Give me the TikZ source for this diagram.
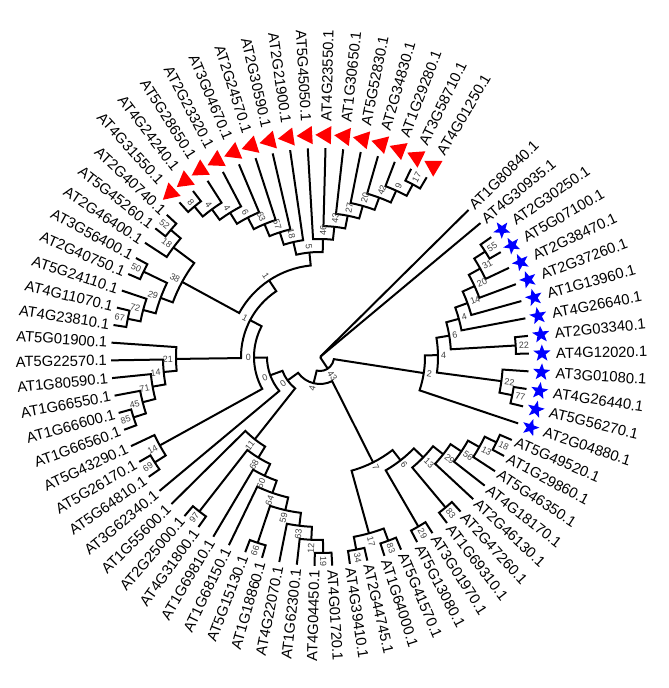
\documentclass[tikz,border=0pt]{standalone}
\usepackage{fontspec}
\setmainfont{Liberation Sans}
\usepackage{tikz}
\usetikzlibrary{shapes.geometric}

% stored angle / radius of every tree node
\newcommand{\storeval}[3]{\expandafter\xdef\csname #1#2\endcsname{#3}}
\newcommand{\getval}[2]{\csname #1#2\endcsname}

% text set along the radius, turned so that it reads upright
\newcommand{\radtext}[5]{%
  \pgfmathsetmacro\angMod{mod(#2,360)}%
  \pgfmathtruncatemacro\isLeft{and(\angMod>90,\angMod<270)}%
  \ifnum\isLeft=1
    \pgfmathsetmacro\rotT{#2-180}%
    \node[#4, anchor=east, rotate=\rotT] (#1) at (#2:#3 pt) {#5};%
  \else
    \node[#4, anchor=west, rotate=#2] (#1) at (#2:#3 pt) {#5};%
  \fi}

% internal node: name, height, first child, last child, support
\newcommand{\clade}[5]{%
  \pgfmathsetmacro\radN{209-13*#2}%
  \pgfmathsetmacro\angA{\getval{ang}{#3}}%
  \pgfmathsetmacro\angB{\getval{ang}{#4}}%
  \pgfmathsetmacro\angM{(\angA+\angB)/2}%
  \storeval{ang}{#1}{\angM}\storeval{rad}{#1}{\radN}%
  \coordinate (#1) at (\angM:\radN pt);%
  \draw[branch] (#3) -- (\angA:\radN pt)
    arc[start angle=\angA, end angle=\angB, radius=\radN pt] -- (#4);%
  \pgfmathsetmacro\radL{\radN+3}%
  \radtext{b#1}{\angM}{\radL}{boot}{#5}}

\newcommand{\leaflist}{AT4G01250, AT3G58710, AT1G29280, AT2G34830, AT5G52830,
  AT1G30650, AT4G23550, AT5G45050, AT2G21900, AT2G30590, AT2G24570, AT3G04670,
  AT2G23320, AT5G28650, AT4G24240, AT4G31550, AT2G40740, AT5G45260, AT2G46400,
  AT3G56400, AT2G40750, AT5G24110, AT4G11070, AT4G23810, AT5G01900, AT5G22570,
  AT1G80590, AT1G66550, AT1G66600, AT1G66560, AT5G43290, AT5G26170, AT5G64810,
  AT3G62340, AT1G55600, AT2G25000, AT4G31800, AT1G69810, AT1G68150, AT5G15130,
  AT1G18860, AT4G22070, AT1G62300, AT4G04450, AT4G01720, AT4G39410, AT2G44745,
  AT1G64000, AT5G41570, AT5G13080, AT3G01970, AT1G69310, AT2G47260, AT2G46130,
  AT4G18170, AT5G46350, AT1G29860, AT5G49520, AT2G04880, AT5G56270, AT4G26440,
  AT3G01080, AT4G12020, AT2G03340, AT4G26640, AT1G13960, AT2G37260, AT2G38470,
  AT5G07100, AT2G30250, AT4G30935, AT1G80840}

\begin{document}
\begin{tikzpicture}[
  branch/.style={line width=2pt},
  boot/.style={font=\fontsize{9}{10}\selectfont, text=black!75, inner sep=0pt},
  leaf/.style={font=\fontsize{14.8}{16}\selectfont, inner sep=0pt},
  redmark/.style={regular polygon, regular polygon sides=3, fill=red,
                  minimum size=21pt, inner sep=0pt},
  bluemark/.style={star, star points=5, star point ratio=2.4, fill=blue,
                   minimum size=18pt, inner sep=0pt}
]
\useasboundingbox (-320pt,-331pt) rectangle (349pt,357pt);

% leaves, markers and labels
\foreach \nm [count=\i from 0] in \leaflist {
  \pgfmathsetmacro\angT{59.3+4.865*\i}
  \storeval{ang}{\nm}{\angT}
  \storeval{rad}{\nm}{209}
  \coordinate (\nm) at (\angT:209pt);
  \pgfmathtruncatemacro\isRed{\i<16}
  \pgfmathtruncatemacro\isStar{and(\i>57,\i<70)}
  \ifnum\isRed=1 \node[redmark, rotate=\angT] (m\nm) at (\angT:222pt) {}; \fi
  \ifnum\isStar=1 \node[bluemark, rotate=\angT] (m\nm) at (\angT:222pt) {}; \fi
  \pgfmathsetmacro\radT{ifthenelse(\isRed+\isStar>0,236,213)}
  \radtext{l\nm}{\angT}{\radT}{leaf}{\nm.1}
}

% red clade
\clade{c17}{1}{AT4G01250}{AT3G58710}{17}
\clade{c9}{2}{c17}{AT1G29280}{9}
\clade{c42}{3}{c9}{AT2G34830}{42}
\clade{c20}{4}{c42}{AT5G52830}{20}
\clade{c27}{5}{c20}{AT1G30650}{27}
\clade{c43}{6}{c27}{AT4G23550}{43}
\clade{c46}{7}{c43}{AT5G45050}{46}
\clade{c8}{1}{AT4G24240}{AT4G31550}{8}
\clade{c4a}{2}{AT5G28650}{c8}{4}
\clade{c4b}{3}{AT2G23320}{c4a}{4}
\clade{c6}{4}{AT3G04670}{c4b}{6}
\clade{c63}{5}{AT2G24570}{c6}{63}
\clade{c57}{6}{AT2G30590}{c63}{57}
\clade{c18}{7}{AT2G21900}{c57}{18}
\clade{c5}{8}{c46}{c18}{5}

% upper left clade
\clade{c52}{1}{AT2G40740}{AT5G45260}{52}
\clade{c18b}{2}{c52}{AT2G46400}{18}
\clade{c50}{1}{AT3G56400}{AT2G40750}{50}
\clade{c67}{1}{AT4G11070}{AT4G23810}{67}
\clade{c72}{2}{AT5G24110}{c67}{72}
\clade{c29}{3}{c50}{c72}{29}
\clade{c38}{4}{c18b}{c29}{38}
\clade{c1a}{9}{c5}{c38}{1}

% left clade
\clade{c85}{1}{AT1G66600}{AT1G66560}{85}
\clade{c45}{2}{AT1G66550}{c85}{45}
\clade{c71}{3}{AT1G80590}{c45}{71}
\clade{c14}{4}{AT5G22570}{c71}{14}
\clade{c21}{5}{AT5G01900}{c14}{21}
\clade{c1b}{10}{c1a}{c21}{1}
\clade{c69}{1}{AT5G26170}{AT5G64810}{69}
\clade{c14b}{2}{AT5G43290}{c69}{14}
\clade{c0a}{11}{c1b}{c14b}{0}
\clade{c0b}{12}{c0a}{AT3G62340}{0}

% lower left clade
\clade{c97}{1}{AT2G25000}{AT4G31800}{97}
\clade{c66}{1}{AT5G15130}{AT1G18860}{66}
\clade{c19}{1}{AT4G04450}{AT4G01720}{19}
\clade{c12}{2}{AT1G62300}{c19}{12}
\clade{c63b}{3}{AT4G22070}{c12}{63}
\clade{c59}{4}{c66}{c63b}{59}
\clade{c64}{5}{AT1G68150}{c59}{64}
\clade{c60}{6}{AT1G69810}{c64}{60}
\clade{c68}{7}{c97}{c60}{68}
\clade{c11}{8}{AT1G55600}{c68}{11}
\clade{c0c}{13}{c0b}{c11}{0}

% lower right clade
\clade{c34}{1}{AT4G39410}{AT2G44745}{34}
\clade{c83a}{1}{AT1G64000}{AT5G41570}{83}
\clade{c17b}{2}{c34}{c83a}{17}
\clade{c29a}{1}{AT5G13080}{AT3G01970}{29}
\clade{c83b}{1}{AT1G69310}{AT2G47260}{83}
\clade{c18c}{1}{AT1G29860}{AT5G49520}{18}
\clade{c13b}{2}{AT5G46350}{c18c}{13}
\clade{c56}{3}{AT4G18170}{c13b}{56}
\clade{c29b}{4}{AT2G46130}{c56}{29}
\clade{c13a}{5}{c83b}{c29b}{13}
\clade{c6b}{6}{c29a}{c13a}{6}
\clade{c7}{7}{c17b}{c6b}{7}
\clade{c4n}{14}{c0c}{c7}{4}

% blue clade
\clade{c77}{1}{AT5G56270}{AT4G26440}{77}
\clade{c22b}{2}{c77}{AT3G01080}{22}
\clade{c22a}{1}{AT4G12020}{AT2G03340}{22}
\clade{c55}{1}{AT5G07100}{AT2G30250}{55}
\clade{c31}{2}{AT2G38470}{c55}{31}
\clade{c20b}{3}{AT2G37260}{c31}{20}
\clade{c14c}{4}{AT1G13960}{c20b}{14}
\clade{c4c}{5}{AT4G26640}{c14c}{4}
\clade{c6c}{6}{c22a}{c4c}{6}
\clade{c4d}{7}{c22b}{c6c}{4}
\clade{c2}{8}{AT2G04880}{c4d}{2}
\clade{c43b}{15}{c4n}{c2}{43}

% root
\pgfmathsetmacro\angA{\getval{ang}{c43b}}
\pgfmathsetmacro\angB{\getval{ang}{AT1G80840}}
\pgfmathsetmacro\angC{\getval{ang}{AT4G30935}}
\draw[branch] (c43b) -- (\angA:1pt)
  arc[start angle=\angA, end angle=\angB, radius=1pt] -- (AT1G80840);
\draw[branch] (\angC:1pt) -- (AT4G30935);

\end{tikzpicture}
\end{document}
